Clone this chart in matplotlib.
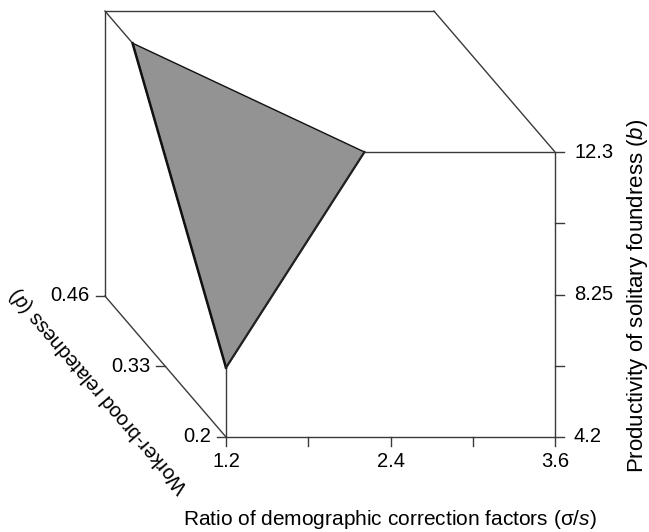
import numpy as np
import matplotlib.pyplot as plt
from matplotlib.patches import Polygon

plt.rcParams['font.family'] = ['Liberation Sans', 'DejaVu Sans']
plt.rcParams['mathtext.fontset'] = 'custom'
plt.rcParams['mathtext.rm'] = 'Liberation Sans'
plt.rcParams['mathtext.it'] = 'Liberation Sans:italic'

# axis ranges (ratio sigma/s, relatedness d, productivity b)
x_range = [1.2, 3.6]
d_range = [0.2, 0.46]
b_range = [4.2, 12.3]

x_ticks = [1.2, 1.8, 2.4, 3.0, 3.6]
x_labels = ['1.2', '', '2.4', '', '3.6']
d_ticks = [0.2, 0.33, 0.46]
d_labels = ['0.2', '0.33', '0.46']
b_ticks = [4.2, 6.225, 8.25, 10.275, 12.3]
b_labels = ['4.2', '', '8.25', '', '12.3']

# corner of the box cut off by the surface
cut_x = [1.2, 2.21, 1.2]
cut_d = [0.40, 0.2, 0.2]
cut_b = [12.3, 12.3, 6.17]

# oblique projection, in pixels
origin = np.array([226.0, 437.0])
vx = np.array([329.0, 0.0])
vd = np.array([-121.5, -141.5])
vb = np.array([0.0, -285.0])


def proj(x, d, b):
    fx = (x - x_range[0]) / (x_range[1] - x_range[0])
    fd = (d - d_range[0]) / (d_range[1] - d_range[0])
    fb = (b - b_range[0]) / (b_range[1] - b_range[0])
    return origin + fx * vx + fd * vd + fb * vb


fig = plt.figure(figsize=(6.49, 5.32), dpi=100)
ax = fig.add_axes([0, 0, 1, 1])
ax.set_xlim(0, 649)
ax.set_ylim(532, 0)
ax.axis('off')

x0, x1 = x_range
d0, d1 = d_range
b0, b1 = b_range
v1, v2, v3 = [(cut_x[i], cut_d[i], cut_b[i]) for i in range(3)]

edges = [
    [(x0, d1, b0), (x0, d1, b1)],
    [(x0, d1, b1), (x1, d1, b1)],
    [(x1, d1, b1), (x1, d0, b1)],
    [v2, (x1, d0, b1)],
    [(x1, d0, b1), (x1, d0, b0)],
    [(x0, d0, b0), (x1, d0, b0)],
    [(x0, d0, b0), v3],
    [(x0, d0, b0), (x0, d1, b0)],
    [(x0, d1, b1), v1],
]
lc = '#3a3a3a'
for p, q in edges:
    a = proj(*p)
    c = proj(*q)
    ax.plot([a[0], c[0]], [a[1], c[1]], color=lc, lw=1.0, solid_capstyle='butt')

tri = np.array([proj(*v) for v in (v1, v2, v3)])
ax.add_patch(Polygon(tri, closed=True, facecolor='#939393', edgecolor='#111111', lw=1.0))
ax.plot([tri[0, 0], tri[2, 0]], [tri[0, 1], tri[2, 1]], color='#111111', lw=1.8)
ax.plot([tri[1, 0], tri[2, 0]], [tri[1, 1], tri[2, 1]], color='#222222', lw=1.6)

fs = 14.5
tl = 9
# x ticks
for t, lab in zip(x_ticks, x_labels):
    p = proj(t, d0, b0)
    ax.plot([p[0], p[0]], [p[1], p[1] + tl], color=lc, lw=1.0)
    if lab:
        ax.text(p[0], p[1] + 15, lab, ha='center', va='top', fontsize=fs)
# b ticks
for t, lab in zip(b_ticks, b_labels):
    p = proj(x1, d0, t)
    ax.plot([p[0], p[0] + tl], [p[1], p[1]], color=lc, lw=1.0)
    if lab:
        ax.text(p[0] + 19, p[1], lab, ha='left', va='center', fontsize=fs)
# d ticks
for t, lab in zip(d_ticks, d_labels):
    p = proj(x0, t, b0)
    ax.plot([p[0] - tl, p[0]], [p[1], p[1]], color=lc, lw=1.0)
    ax.text(p[0] - 15, p[1], lab, ha='right', va='center', fontsize=fs)

# axis titles
ax.text(390, 525, 'Ratio of demographic correction factors (σ/$s$)',
        ha='center', va='baseline', fontsize=15)
ax.text(638, 296, 'Productivity of solitary foundress ($b$)',
        ha='center', va='center', rotation=90, fontsize=16)
ang = np.degrees(np.arctan2(-vd[1], vd[0]))
pd = proj(x0, d0 + 0.63 * (d1 - d0), b0) + np.array([-50.0, 43.0])
ax.text(pd[0], pd[1], 'Worker-brood relatedness ($d$)', ha='center', va='center',
        rotation=ang, rotation_mode='anchor', fontsize=14.5)

fig.savefig('out.png', dpi=100)
